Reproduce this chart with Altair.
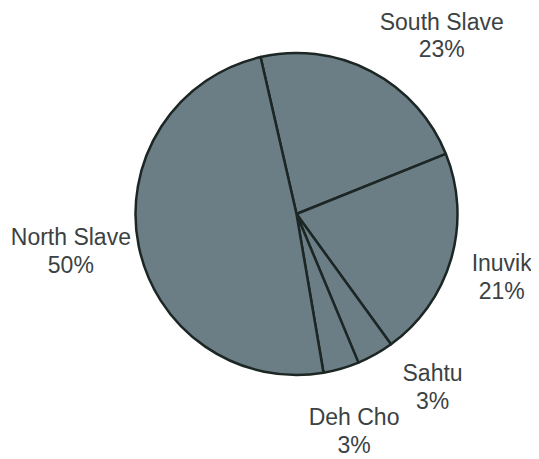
import math
import altair as alt
import pandas as pd

# --- data ---------------------------------------------------------------
regions = ["South Slave", "Inuvik", "Sahtu", "Deh Cho", "North Slave"]
shares = [22.5, 21.1, 3.7, 3.6, 49.1]          # slice sizes
pct_labels = ["23%", "21%", "3%", "3%", "50%"]  # printed percentages

df = pd.DataFrame({
    "region": regions,
    "share": shares,
    "pct": pct_labels,
    "order": list(range(len(regions))),
})
df["label"] = df["region"] + "\n" + df["pct"]

# --- layout / style -----------------------------------------------------
W, H = 523, 451
CX, CY = 288.5, 206.0
R = 161
START = math.radians(-12.9)
theta_scale = alt.Scale(domain=[0, 100], range=[START, START + 2 * math.pi])
FILL = "#6b7e85"
STROKE = "#1c2624"
TEXT = "#3b4243"
FONT = "Liberation Sans"

base = alt.Chart(df)

pie = base.mark_arc(
    radius=R, fill=FILL, stroke=STROKE, strokeWidth=2.5, strokeJoin="round"
).encode(
    theta=alt.Theta("share:Q", stack=True, scale=theta_scale),
    order=alt.Order("order:Q"),
    x=alt.value(CX),
    y=alt.value(CY),
)

label_base = base.transform_window(
    cum="sum(share)", sort=[alt.SortField("order")]
).transform_calculate(mid="datum.cum - datum.share / 2")

nudges = {
    "South Slave": (41, 8),
    "Inuvik": (-11, -12),
    "Sahtu": (26, -36),
    "Deh Cho": (-5, -12),
    "North Slave": (-5, -20),
}

layers = [pie]
for name, (ddx, ddy) in nudges.items():
    layers.append(
        label_base.transform_filter(alt.datum.region == name)
        .mark_text(
            font=FONT, fontSize=23, color=TEXT, lineBreak="\n", lineHeight=27.5,
            align="center", baseline="middle", dx=ddx, dy=ddy,
        )
        .encode(
            theta=alt.Theta("mid:Q", scale=theta_scale),
            radius=alt.value(225),
            x=alt.value(CX),
            y=alt.value(CY),
            text="label:N",
        )
    )

chart = alt.layer(*layers).properties(
    width=W, height=H, padding=0, background="white",
    autosize=alt.AutoSizeParams(type="none"),
).configure_view(stroke=None).resolve_scale(theta="shared")

chart.save("out.html", embed_options={"renderer": "svg", "actions": False})
